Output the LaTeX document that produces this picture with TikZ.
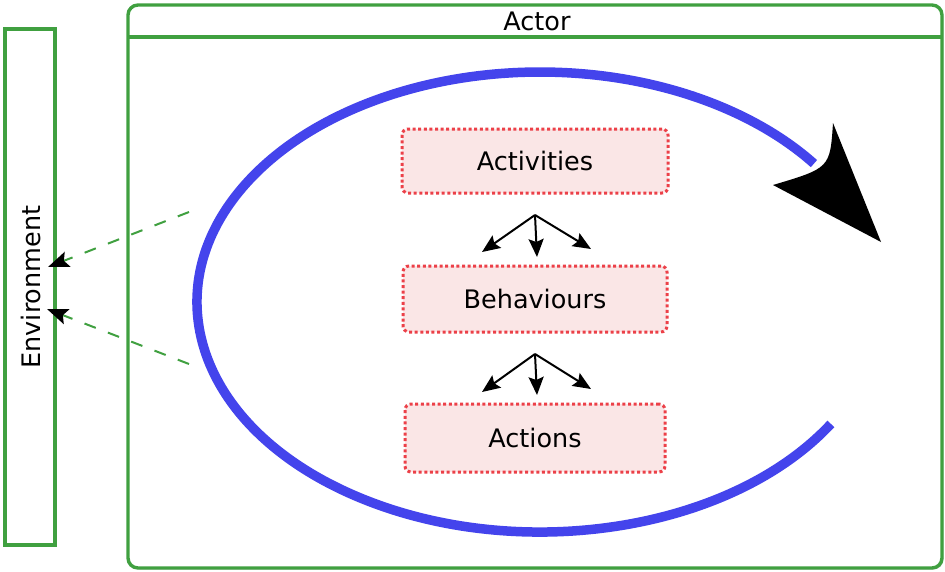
\documentclass[tikz,border=0pt]{standalone}
\usepackage{fontspec}
\setmainfont{DejaVu Sans}
\usetikzlibrary{arrows.meta,shadows}
\definecolor{boxgreen}{RGB}{64,160,64}
\definecolor{loopblue}{RGB}{68,68,236}
\definecolor{dotred}{RGB}{236,64,72}
\definecolor{softpink}{RGB}{250,230,230}
\tikzset{
  frame/.style={draw=boxgreen, line width=3.4pt, fill=white,
    drop shadow={shadow xshift=1.5pt, shadow yshift=-1.5pt, opacity=0.4}},
  layer/.style={draw=dotred, fill=softpink, line width=3pt,
    dash pattern=on 3pt off 2.6pt, rounded corners=6pt,
    minimum height=64pt, font=\fontsize{25.5}{30}\selectfont},
  fan/.style={line width=2pt, -{Stealth[length=18pt,width=15pt,inset=3pt]}},
  envlink/.style={draw=boxgreen, line width=2pt, dash pattern=on 12pt off 13pt,
    -{Stealth[black,length=21pt,width=16pt,inset=4pt]}},
  label/.style={font=\fontsize{25.5}{30}\selectfont}
}
\begin{document}
\begin{tikzpicture}[x=1pt,y=-1pt]
\useasboundingbox (0,0) rectangle (945,571);

% Environment column
\node[frame, minimum width=50pt, minimum height=516pt, inner sep=0pt] (env) at (30,287) {};
\node[label, rotate=90] (envtext) at (31,287) {Environment};

% Actor frame with header
\node[frame, rounded corners=10pt, minimum width=814pt, minimum height=563pt, inner sep=0pt] (actor) at (535,286.5) {};
\coordinate (hl) at (128,37);
\coordinate (hr) at (942,37);
\draw[boxgreen, line width=3.4pt] (hl) -- (hr);
\node[label] (actortext) at (537,21) {Actor};

% Control loop
\draw[loopblue, line width=9.5pt] (830.9,423.9) arc[start angle=32, end angle=323, x radius=343, y radius=230];
\coordinate (tipa) at (833,123);
\coordinate (tipb) at (773,185);
\coordinate (tip) at (881,242);
\fill[black] (tip) -- (tipa) .. controls (830,168) .. (tipb) -- cycle;

% Layers
\node[layer, minimum width=266pt] (act) at (535,161) {Activities};
\node[layer, minimum width=264pt, minimum height=66pt] (beh) at (535,299) {Behaviours};
\node[layer, minimum width=260pt, minimum height=68pt] (acn) at (535,438) {Actions};

% Decomposition fans
\coordinate (f1) at (535,215);
\coordinate (f1a) at (482,252);
\coordinate (f1b) at (537,257);
\coordinate (f1c) at (591,249);
\draw[fan] (f1) -- (f1a);
\draw[fan] (f1) -- (f1b);
\draw[fan] (f1) -- (f1c);
\coordinate (f2) at (535,354);
\coordinate (f2a) at (482,392);
\coordinate (f2b) at (537,395);
\coordinate (f2c) at (591,389);
\draw[fan] (f2) -- (f2a);
\draw[fan] (f2) -- (f2b);
\draw[fan] (f2) -- (f2c);

% Effects on the environment
\coordinate (o1) at (189,212);
\coordinate (o2) at (189,364);
\coordinate (e1) at (48,267);
\coordinate (e2) at (47,309);
\draw[envlink] (o1) -- (e1);
\draw[envlink] (o2) -- (e2);
\end{tikzpicture}
\end{document}
